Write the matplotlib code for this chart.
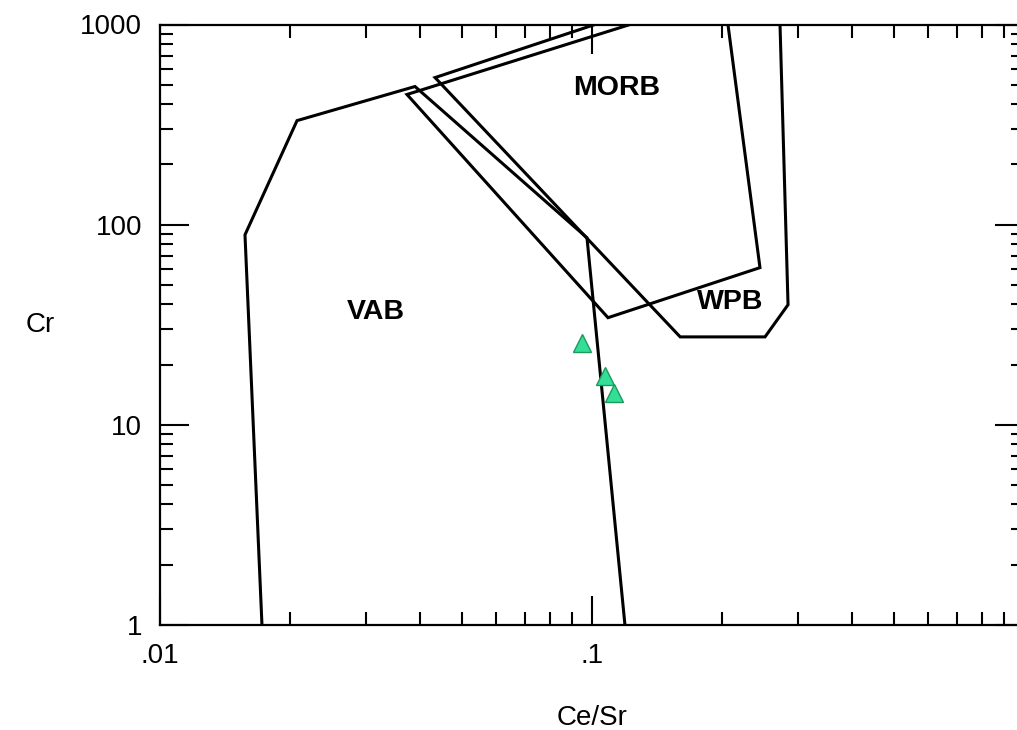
import matplotlib
matplotlib.use("Agg")
import matplotlib.pyplot as plt
from matplotlib.ticker import LogLocator, FixedLocator, FixedFormatter, NullFormatter

plt.rcParams['font.family'] = ['Liberation Sans', 'DejaVu Sans']

# field boundaries (Ce/Sr, Cr)
vab_x = [0.01722, 0.01573, 0.02076, 0.03893, 0.09736, 0.1192]
vab_y = [1, 89, 331, 490, 86, 1]

morb_x = [0.1225, 0.0373, 0.1089, 0.2448, 0.2064]
morb_y = [1000, 447, 34.3, 61, 1000]

wpb_x = [0.1016, 0.04332, 0.160, 0.2515, 0.2843, 0.2724]
wpb_y = [1000, 543, 27.5, 27.5, 39.8, 1000]

# samples
ce_sr = [0.0948, 0.1072, 0.1124]
cr = [25.7, 17.6, 14.5]

field_names = ['VAB', 'MORB', 'WPB']
field_pos = [(0.0316, 36.5), (0.1143, 481), (0.2087, 41)]

W, H = 1017, 730
fig = plt.figure(figsize=(W / 100, H / 100), dpi=100)
ax = fig.add_axes([160 / W, (H - 625) / H, (1024 - 160) / W, (625 - 24.5) / H])

ax.set_xscale('log')
ax.set_yscale('log')
ax.set_xlim(0.01, 1)
ax.set_ylim(1, 1000)

for xs, ys in [(vab_x, vab_y), (morb_x, morb_y), (wpb_x, wpb_y)]:
    ax.plot(xs, ys, color='black', lw=2.2, solid_joinstyle='miter')

ax.plot(ce_sr, cr, linestyle='none', marker='^', ms=13, mfc='#33df96',
        mec='#1c9a5e', mew=1.0, zorder=5)

for name, (tx, ty) in zip(field_names, field_pos):
    ax.text(tx, ty, name, fontsize=20.5, fontweight='bold', ha='center', va='center')

ax.xaxis.set_major_locator(FixedLocator([0.01, 0.1, 1]))
ax.xaxis.set_major_formatter(FixedFormatter(['.01', '.1', '1']))
ax.yaxis.set_major_locator(FixedLocator([1, 10, 100, 1000]))
ax.yaxis.set_major_formatter(FixedFormatter(['1', '10', '100', '1000']))
ax.xaxis.set_minor_locator(LogLocator(base=10, subs=range(2, 10)))
ax.yaxis.set_minor_locator(LogLocator(base=10, subs=range(2, 10)))
ax.xaxis.set_minor_formatter(NullFormatter())
ax.yaxis.set_minor_formatter(NullFormatter())

ax.tick_params(which='both', direction='in', top=True, right=True, width=1.5,
               labelsize=20, pad=13)
ax.tick_params(which='major', length=21)
ax.tick_params(which='minor', length=9.5)

for s in ax.spines.values():
    s.set_linewidth(1.6)

ax.set_xlabel('Ce/Sr', fontsize=20, va='center')
ax.xaxis.set_label_coords(0.5, -0.155)
ax.set_ylabel('Cr', fontsize=20, rotation=0, ha='center', va='center')
ax.yaxis.set_label_coords(-0.139, 0.5)

fig.savefig('out.png', dpi=100)
